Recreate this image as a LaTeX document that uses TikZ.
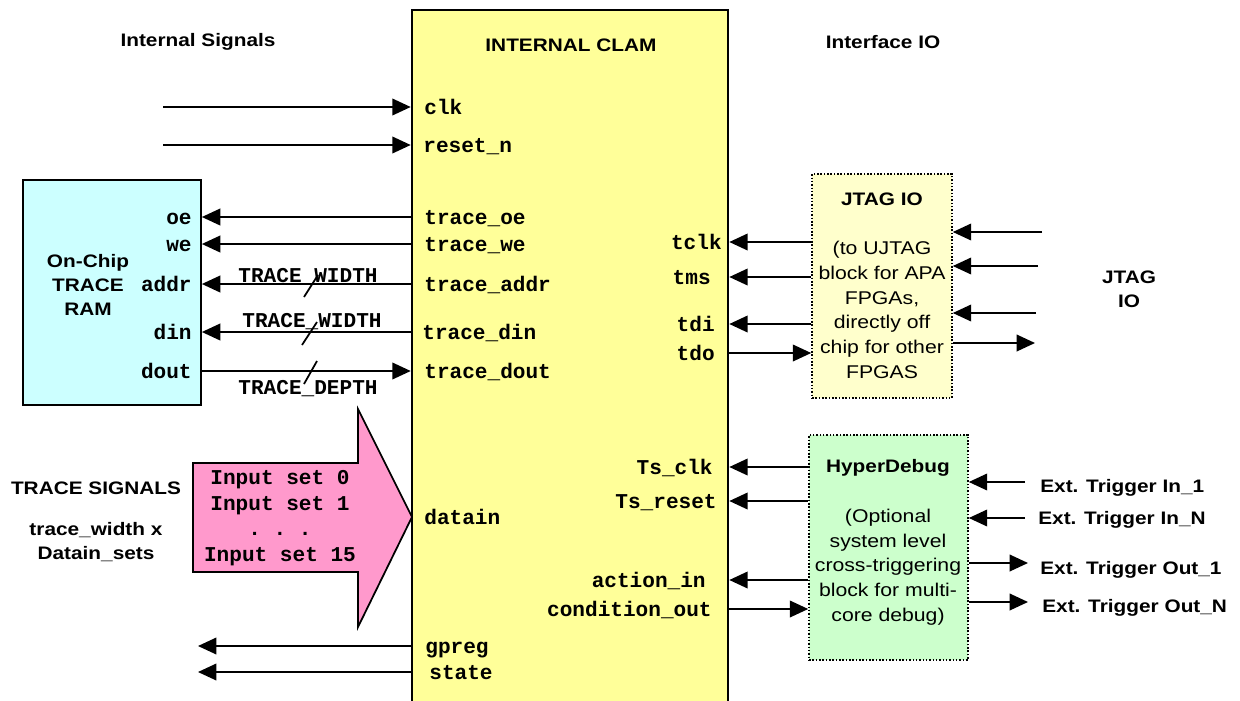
\documentclass[tikz,border=0pt]{standalone}
\usepackage{fontspec}
\setmainfont{Liberation Sans}[FakeStretch=1.15]
\setmonofont{Liberation Mono}
\usepackage{xcolor}
\usetikzlibrary{arrows.meta,positioning,calc}

\definecolor{clamyellow}{HTML}{FFFF99}
\definecolor{ramcyan}{HTML}{CCFFFF}
\definecolor{tracepink}{HTML}{FF99CC}
\definecolor{jtagyellow}{HTML}{FFFFCC}
\definecolor{hypergreen}{HTML}{CCFFCC}

\begin{document}
\begin{tikzpicture}[
    x=0.02cm, y=-0.02cm,
    box/.style={rectangle, draw, line width=1pt, inner sep=0pt},
    dotbox/.style={rectangle, draw, densely dotted, line width=0.9pt, inner sep=0pt},
    port/.style={font=\fontsize{12}{14}\selectfont\ttfamily\bfseries, inner sep=0pt, text height=10pt, text depth=1pt},
    inset/.style={font=\fontsize{12}{14.6}\selectfont\ttfamily\bfseries, align=center},
    head/.style={font=\fontsize{10.3}{13.8}\selectfont\bfseries, align=center},
    note/.style={font=\fontsize{10.5}{14.1}\selectfont, align=center},
    ext/.style={font=\fontsize{10.3}{12}\selectfont\bfseries, inner sep=0pt, text height=7.5pt, text depth=0pt},
    sig/.style={-{Triangle[length=10.5pt, width=9.5pt]}, line width=1pt},
    bus/.style={line width=1pt}
]
    \useasboundingbox (0,0) rectangle (1240,700);

    % main block
    \node[box, fill=clamyellow, line width=1.5pt, minimum width=6.32cm, minimum height=13.9cm] (clam) at (570,357.5) {};
    \node[head] (clamtitle) at (571,45) {INTERNAL CLAM};
    \node[head] (intsig) at (198,42) {Internal Signals};
    \node[head] (ifio) at (883,42) {Interface IO};

    % clock and reset
    \node[port, anchor=west] (clk) at (424,107) {clk};
    \node[port, anchor=west] (rst) at (423,145) {reset\_n};
    \coordinate (clkin) at (163,107);
    \coordinate (rstin) at (163,145);
    \draw[sig] (clkin) -- (clk -| clam.west);
    \draw[sig] (rstin) -- (rst -| clam.west);

    % trace RAM
    \node[box, fill=ramcyan, minimum width=3.56cm, minimum height=4.5cm] (ram) at (112,292.5) {};
    \node[head] (ramtitle) at (88,285) {On-Chip\\TRACE\\RAM};
    \node[port, anchor=east] (oe) at (192,217) {oe};
    \node[port, anchor=east] (we) at (192,244) {we};
    \node[port, anchor=east] (addr) at (192,284) {addr};
    \node[port, anchor=east] (din) at (192,332) {din};
    \node[port, anchor=east] (dout) at (192,371) {dout};
    \node[port, anchor=west] (toe) at (424,217) {trace\_oe};
    \node[port, anchor=west] (twe) at (424,244) {trace\_we};
    \node[port, anchor=west] (taddr) at (424,284) {trace\_addr};
    \node[port, anchor=west] (tdin) at (422,332) {trace\_din};
    \node[port, anchor=west] (tdout) at (424,371) {trace\_dout};
    \draw[sig] (toe -| clam.west) -- (oe -| ram.east);
    \draw[sig] (twe -| clam.west) -- (we -| ram.east);
    \draw[sig] (taddr -| clam.west) -- (addr -| ram.east);
    \draw[sig] (tdin -| clam.west) -- (din -| ram.east);
    \draw[sig] (dout -| ram.east) -- (tdout -| clam.west);

    % bus widths
    \node[port] (wa) at (308,275) {TRACE\_WIDTH};
    \node[port] (wd) at (312,320) {TRACE\_WIDTH};
    \node[port] (dd) at (308,387) {TRACE\_DEPTH};
    \draw[bus] (304,297) -- (318,275);
    \draw[bus] (302,345) -- (317,322);
    \draw[bus] (304,384) -- (317,361);

    % trace inputs
    \draw[fill=tracepink, line width=1pt] (193,463) -- (358,463) -- (358,409) -- (412,517)
        -- (358,627) -- (358,572) -- (193,572) -- cycle;
    \node[inset] (inputs) at (280,518) {Input set 0\\Input set 1\\.\ .\ .\\Input set 15};
    \node[head] (trsig) at (96,488) {TRACE SIGNALS};
    \node[head] (trdim) at (96,542) {trace\_width x\\Datain\_sets};
    \node[port, anchor=west] (datain) at (424,517) {datain};

    % gpreg and state
    \node[port, anchor=west] (gpreg) at (425,646) {gpreg};
    \node[port, anchor=west] (state) at (429,672) {state};
    \coordinate (gpout) at (198,646);
    \coordinate (stout) at (198,672);
    \draw[sig] (gpreg -| clam.west) -- (gpout);
    \draw[sig] (state -| clam.west) -- (stout);

    % JTAG IO
    \node[dotbox, fill=jtagyellow, minimum width=2.8cm, minimum height=4.48cm] (jtag) at (882,286) {};
    \node[head] (jtagtitle) at (882,199) {JTAG IO};
    \node[note] (jtagnote) at (882,310) {(to UJTAG\\block for APA\\FPGAs,\\directly off\\chip for other\\FPGAS};
    \node[port, anchor=east] (tclk) at (722,242) {tclk};
    \node[port, anchor=east] (tms) at (711,277) {tms};
    \node[port, anchor=east] (tdi) at (715,324) {tdi};
    \node[port, anchor=east] (tdo) at (715,353) {tdo};
    \draw[sig] (tclk -| jtag.west) -- (tclk -| clam.east);
    \draw[sig] (tms -| jtag.west) -- (tms -| clam.east);
    \draw[sig] (tdi -| jtag.west) -- (tdi -| clam.east);
    \draw[sig] (tdo -| clam.east) -- (tdo -| jtag.west);
    \coordinate (jin1) at (1042,232);
    \coordinate (jin2) at (1038,266);
    \coordinate (jin3) at (1036,313);
    \coordinate (jout) at (1035,343);
    \draw[sig] (jin1) -- (jin1 -| jtag.east);
    \draw[sig] (jin2) -- (jin2 -| jtag.east);
    \draw[sig] (jin3) -- (jin3 -| jtag.east);
    \draw[sig] (jout -| jtag.east) -- (jout);
    \node[head] (jtagio) at (1129,289) {JTAG\\IO};

    % HyperDebug
    \node[dotbox, fill=hypergreen, minimum width=3.18cm, minimum height=4.5cm] (hyper) at (888.5,547.5) {};
    \node[head] (hypertitle) at (888,468) {HyperDebug};
    \node[note] (hypernote) at (888,567) {(Optional\\system level\\cross-triggering\\block for multi-\\core debug)};
    \node[port, anchor=east] (tsclk) at (713,467) {Ts\_clk};
    \node[port, anchor=east] (tsrst) at (717,501) {Ts\_reset};
    \node[port, anchor=east] (actin) at (706,580) {action\_in};
    \node[port, anchor=east] (condout) at (712,609) {condition\_out};
    \draw[sig] (tsclk -| hyper.west) -- (tsclk -| clam.east);
    \draw[sig] (tsrst -| hyper.west) -- (tsrst -| clam.east);
    \draw[sig] (actin -| hyper.west) -- (actin -| clam.east);
    \draw[sig] (condout -| clam.east) -- (condout -| hyper.west);

    % external triggers
    \node[ext, anchor=west] (tin1) at (1040,486) {Ext. Trigger In\_1};
    \node[ext, anchor=west] (tinn) at (1038,518) {Ext. Trigger In\_N};
    \node[ext, anchor=west] (tout1) at (1040,568) {Ext. Trigger Out\_1};
    \node[ext, anchor=west] (toutn) at (1042,606) {Ext. Trigger Out\_N};
    \coordinate (ein1) at (1025,482);
    \coordinate (einn) at (1025,518);
    \coordinate (eout1) at (1028,563);
    \coordinate (eoutn) at (1028,602);
    \draw[sig] (ein1) -- (ein1 -| hyper.east);
    \draw[sig] (einn) -- (einn -| hyper.east);
    \draw[sig] (eout1 -| hyper.east) -- (eout1);
    \draw[sig] (eoutn -| hyper.east) -- (eoutn);
\end{tikzpicture}
\end{document}
